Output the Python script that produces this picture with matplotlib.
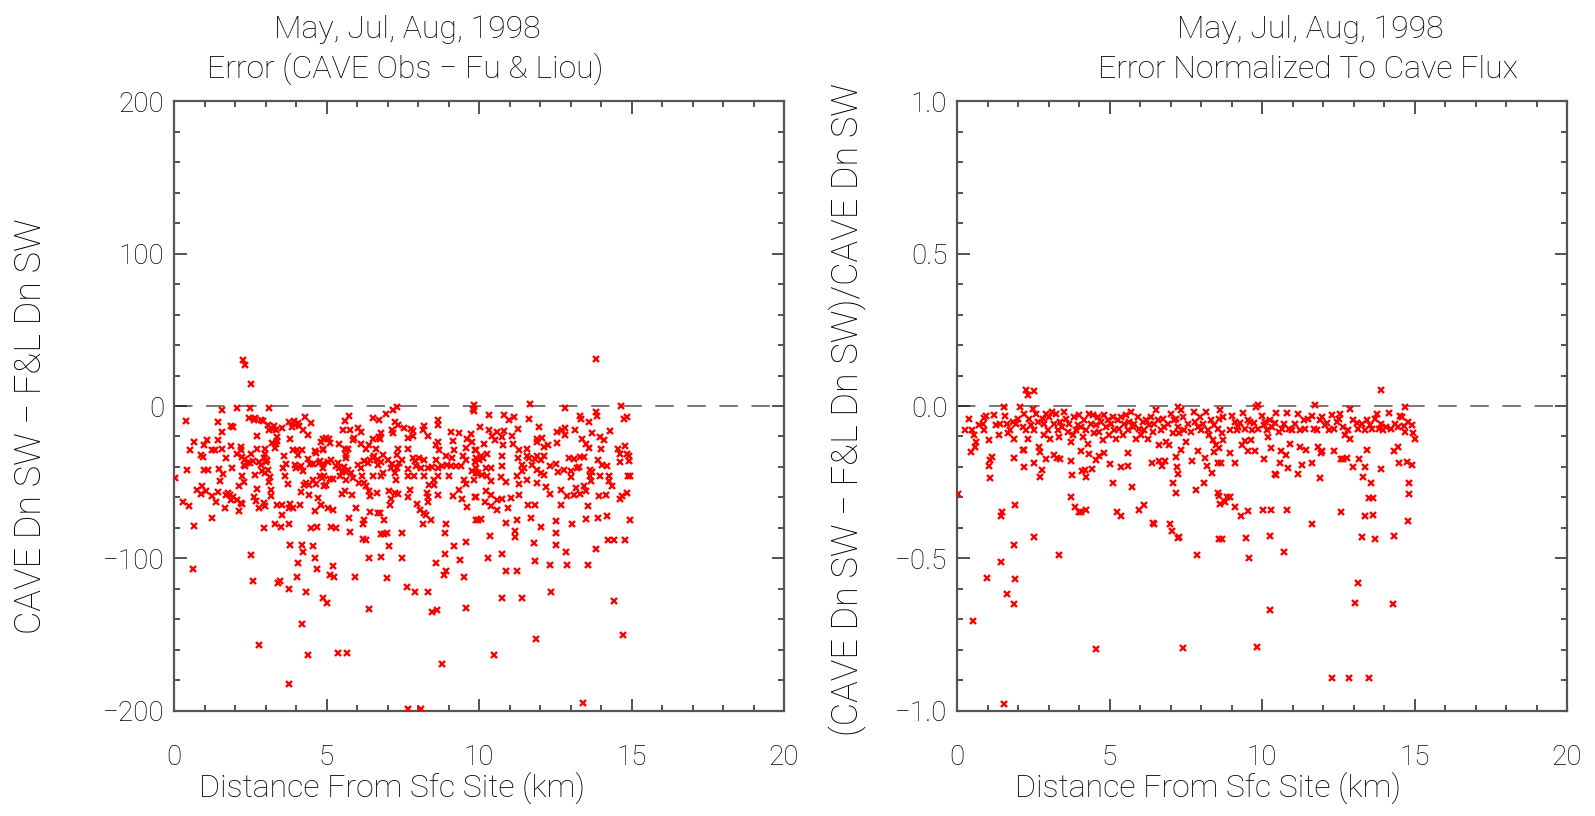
import numpy as np
import matplotlib
matplotlib.use("Agg")
import matplotlib.pyplot as plt
from matplotlib.ticker import MultipleLocator

plt.rcParams['font.family'] = ['Roboto', 'DejaVu Sans']
plt.rcParams['font.weight'] = 'light'

title_top = "May, Jul, Aug, 1998"
left_title = "Error (CAVE Obs \u2212 Fu & Liou)"
right_title = "Error Normalized To Cave Flux"
x_label = "Distance From Sfc Site (km)"
left_ylabel = "CAVE Dn SW \u2212 F&L Dn SW"
right_ylabel = "(CAVE Dn SW \u2212 F&L Dn SW)/CAVE Dn SW"

# (distance km, CAVE - F&L error W/m2)
left_pts = [
    (2.27, 30.3), (2.33, 27.0), (2.52, 14.6), (2.50, -1.0), (3.12, -1.3), (2.08, -1.3),
    (13.83, 31.0), (11.68, 1.3), (12.81, -1.3), (14.65, -0.2), (9.85, 0.7), (9.80, -2.0),
    (1.58, -2.8), (0.40, -9.6), (1.45, -10.7), (1.88, -12.9), (1.94, -13.8), (1.56, -16.8),
    (0.65, -23.8), (0.54, -28.6), (1.07, -22.1), (1.45, -22.5), (0.98, -25.8), (0.87, -31.9),
    (0.94, -33.4), (1.23, -29.0), (1.35, -28.6), (1.57, -27.9), (1.86, -26.0), (1.70, -34.1),
    (2.21, -26.9), (2.20, -28.8), (2.08, -31.2), (2.23, -33.4), (2.32, -34.5), (2.51, -31.2),
    (2.71, -28.2), (2.47, -7.6), (2.61, -9.0), (2.67, -8.1), (2.84, -9.0), (2.93, -9.6),
    (2.72, -19.9), (2.97, -27.9), (2.97, -31.2), (2.94, -34.1), (3.04, -35.2), (3.08, -12.2),
    (3.27, -12.9), (3.25, -15.1), (3.33, -15.5), (3.55, -14.4), (3.10, -15.9), (3.36, -20.3),
    (3.36, -23.1), (3.21, -24.2), (3.33, -24.9), (3.30, -27.5), (3.76, -10.5), (3.92, -9.8),
    (3.98, -12.2), (4.06, -11.1), (3.88, -13.8), (4.10, -12.9), (4.28, -7.2), (4.50, -11.1),
    (4.23, -15.5), (4.39, -18.8), (3.79, -21.4), (3.89, -28.6), (4.04, -28.6), (4.06, -31.9),
    (4.21, -28.6), (4.39, -34.5), (4.61, -29.7), (4.66, -30.8), (4.83, -23.8), (4.89, -21.4),
    (4.88, -28.6), (0.03, -47.2), (0.44, -41.7), (0.28, -62.9), (0.50, -65.7), (0.64, -78.4),
    (1.23, -73.4), (0.74, -55.2), (0.90, -57.4), (0.93, -52.6), (1.06, -55.9), (0.98, -42.1),
    (1.10, -41.7), (1.23, -58.7), (1.36, -63.1), (1.45, -56.3), (1.48, -41.3), (1.51, -49.3),
    (1.62, -44.5), (1.69, -58.1), (1.78, -57.0), (1.84, -58.3), (1.88, -61.4), (1.92, -59.6),
    (1.68, -66.8), (2.05, -61.8), (1.91, -40.6), (2.12, -52.2), (2.12, -69.0), (2.20, -63.3),
    (2.23, -64.4), (2.30, -49.6), (2.28, -38.9), (2.23, -46.1), (2.39, -37.3), (2.32, -39.1),
    (2.48, -37.3), (2.59, -36.2), (2.67, -45.0), (2.73, -54.4), (2.63, -59.8), (2.68, -62.4),
    (2.80, -66.8), (2.94, -63.5), (2.97, -65.3), (2.94, -79.9), (2.79, -36.9), (2.85, -38.4),
    (2.90, -42.8), (2.97, -43.9), (3.03, -36.9), (3.08, -41.7), (3.15, -46.5), (3.10, -49.8),
    (3.17, -55.2), (3.19, -59.2), (3.30, -77.1), (3.38, -65.1), (3.54, -65.1), (3.54, -71.6),
    (3.52, -79.3), (3.57, -40.4), (3.63, -46.1), (3.60, -33.0), (3.68, -37.8), (3.74, -50.9),
    (3.79, -64.0), (3.78, -66.8), (3.77, -77.1), (3.91, -67.0), (3.95, -38.4), (4.01, -40.6),
    (4.17, -39.5), (4.23, -42.8), (4.12, -64.6), (4.17, -56.6), (4.26, -51.7), (4.34, -50.4),
    (4.44, -52.0), (4.42, -58.3), (4.55, -48.3), (4.66, -50.9), (4.63, -69.0), (4.72, -60.3),
    (4.83, -65.1), (4.85, -47.2), (4.88, -40.6), (4.50, -79.9), (4.69, -79.3), (4.46, -38.0),
    (4.55, -37.8), (4.75, -37.3), (4.91, -46.1), (4.93, -52.6),
    (5.73, -6.3), (6.51, -7.6), (6.71, -9.0), (6.95, -5.0), (7.19, -2.4), (7.30, -0.7),
    (5.61, -10.0), (5.53, -15.5), (5.77, -15.9), (6.02, -14.4), (6.12, -16.8), (5.86, -22.1),
    (5.91, -21.2), (4.97, -21.0), (5.08, -21.6), (4.88, -28.2), (5.10, -24.2), (5.40, -25.1),
    (5.59, -28.2), (5.70, -28.2), (5.64, -31.9), (5.64, -34.1), (6.13, -24.9), (6.38, -25.5),
    (6.30, -28.2), (6.51, -21.4), (6.73, -20.3), (6.78, -17.7), (6.76, -21.6), (6.62, -28.2),
    (7.15, -15.5), (7.19, -17.7), (7.25, -10.7), (7.33, -12.2), (7.55, -14.4), (7.77, -15.1),
    (7.82, -16.6), (7.85, -19.9), (7.66, -21.0), (7.66, -27.9), (7.33, -28.2), (7.30, -31.9),
    (8.20, -13.3), (8.15, -15.9), (8.34, -19.4), (8.64, -9.0), (8.64, -12.2), (8.64, -23.8),
    (8.58, -25.3), (8.69, -28.6), (9.07, -17.2), (9.35, -17.7), (9.73, -18.1), (9.16, -23.1),
    (9.18, -29.0), (9.56, -27.5), (9.62, -21.6), (9.76, -23.8), (9.89, -28.6),
    (4.77, -36.2), (4.88, -37.8), (5.04, -36.9), (5.15, -35.2), (5.32, -39.1), (5.37, -37.3),
    (5.40, -40.6), (5.51, -43.0), (5.56, -40.0), (5.64, -43.4), (5.70, -41.7), (5.81, -43.9),
    (6.02, -38.4), (6.13, -40.6), (6.24, -36.2), (6.35, -37.3), (6.41, -35.6), (6.51, -34.1),
    (6.57, -33.0), (6.64, -35.6), (6.68, -38.4), (6.79, -36.9), (6.86, -31.9), (7.00, -35.2),
    (7.11, -40.6), (7.15, -37.8), (7.30, -40.6), (7.39, -37.3), (7.49, -35.2), (7.66, -41.3),
    (7.84, -34.1), (7.91, -36.2), (7.93, -39.5), (8.04, -34.1), (8.09, -40.6), (8.20, -35.6),
    (8.34, -40.6), (8.47, -40.0), (8.58, -35.2), (8.64, -40.6), (8.67, -45.6), (8.80, -39.5),
    (8.91, -33.0), (8.96, -38.6), (9.07, -39.5), (9.11, -34.1), (9.24, -39.5), (9.40, -39.5),
    (9.46, -33.0), (9.56, -35.2), (9.78, -42.8), (9.89, -40.6), (9.87, -36.9), (10.0, -35.2),
    (4.79, -46.1), (4.97, -51.5), (5.10, -47.8), (5.21, -47.8), (5.45, -46.1), (5.64, -48.3),
    (5.86, -47.2), (6.17, -45.6), (6.51, -45.6), (6.79, -46.1), (6.84, -43.9), (7.25, -43.9),
    (7.28, -48.3), (7.66, -46.1), (7.88, -45.6), (8.20, -46.1), (8.37, -51.5), (8.53, -51.5),
    (8.53, -48.3), (9.02, -45.6), (9.35, -54.8), (9.51, -48.3), (9.56, -51.1), (9.84, -48.3),
    (9.89, -43.9),
    (5.51, -57.4), (5.62, -55.9), (5.84, -58.1), (6.06, -50.4), (6.24, -50.4), (6.30, -52.2),
    (6.38, -55.9), (6.41, -58.7), (6.64, -57.0), (7.06, -55.9), (7.08, -65.1), (7.11, -60.7),
    (7.25, -57.0), (7.33, -57.4), (7.66, -59.6), (7.73, -55.2), (8.28, -57.0), (8.31, -59.6),
    (8.34, -63.1), (8.64, -58.1), (9.16, -59.2), (9.43, -60.9), (9.62, -66.2), (9.89, -59.6),
    (7.95, -64.0), (8.07, -67.9), (8.20, -70.1), (8.26, -71.8), (8.42, -74.9), (8.15, -77.7),
    (4.83, -65.1), (5.04, -66.8), (5.21, -68.3), (5.95, -66.8), (6.41, -69.2), (6.68, -70.1),
    (6.75, -70.1), (6.90, -74.7), (5.75, -73.6), (6.24, -74.5), (6.19, -77.1), (5.15, -79.3),
    (5.32, -80.1), (8.91, -77.7), (9.89, -74.7),
    (9.84, -3.1), (10.31, -5.7), (10.82, -5.9), (10.98, -9.0), (11.14, -7.2), (11.63, -8.5),
    (13.32, -6.3), (13.34, -8.5), (13.60, -10.3), (13.83, -3.7), (13.87, -6.8), (14.76, -8.5),
    (14.85, -7.2), (10.03, -13.8), (10.33, -15.5), (10.58, -16.8), (10.82, -16.4), (11.27, -15.1),
    (11.96, -14.0), (12.56, -16.8), (12.72, -15.9), (12.83, -14.6), (12.83, -19.2), (13.13, -15.9),
    (13.70, -17.7), (14.30, -16.2), (10.44, -19.4), (10.51, -22.5), (10.74, -20.5), (11.09, -19.9),
    (11.12, -25.1), (10.16, -24.9), (10.80, -25.5), (11.31, -28.6), (11.58, -28.2), (11.89, -21.6),
    (12.07, -21.2), (11.91, -23.4), (12.13, -26.9), (12.26, -25.3), (12.54, -24.2), (13.38, -21.4),
    (13.52, -24.9), (13.60, -27.5), (13.98, -20.3), (14.09, -22.1), (14.00, -28.2), (14.54, -28.2),
    (14.79, -26.4), (14.63, -31.2), (14.85, -31.2), (14.90, -33.0), (9.86, -28.6), (9.89, -34.1),
    (10.05, -33.0), (10.27, -31.4), (10.14, -33.8), (10.76, -32.5), (11.27, -34.1), (11.58, -33.0),
    (11.63, -34.1), (12.13, -32.5), (11.83, -34.7), (11.91, -33.0), (12.02, -35.6), (12.94, -34.1),
    (13.11, -34.7), (13.32, -33.4), (13.43, -33.4), (12.51, -38.0), (12.32, -39.1), (11.42, -38.4),
    (11.47, -40.6), (11.42, -42.8), (11.74, -38.9), (11.91, -41.7), (12.02, -43.9), (12.13, -45.0),
    (12.58, -43.4), (12.80, -41.7), (13.00, -42.8), (13.21, -40.6), (13.27, -39.7), (13.65, -41.7),
    (13.70, -43.4), (13.89, -35.6), (14.03, -38.4), (14.19, -39.5), (14.25, -46.1), (14.63, -36.9),
    (14.90, -36.2), (9.97, -43.9), (10.11, -45.0), (10.22, -40.6), (10.38, -40.6), (10.27, -45.6),
    (10.38, -49.3), (10.71, -46.5), (10.76, -39.5), (10.87, -50.0), (11.25, -46.1), (11.31, -50.9),
    (11.58, -48.3), (11.91, -50.4), (12.21, -53.3), (12.32, -57.4), (12.69, -54.8), (12.89, -59.2),
    (13.00, -46.5), (13.11, -58.5), (13.32, -57.6), (13.19, -54.1), (13.43, -52.6), (13.49, -55.9),
    (13.65, -46.1), (13.67, -49.3), (13.92, -58.7), (13.98, -46.1), (14.17, -58.3), (14.25, -49.3),
    (14.36, -52.6), (14.63, -60.9), (14.68, -59.2), (14.85, -57.0), (14.87, -45.6), (14.94, -45.6),
    (10.22, -55.9), (10.38, -58.1), (10.60, -61.4), (10.76, -60.7), (11.04, -60.3), (11.31, -58.1),
    (9.87, -59.6), (10.20, -62.9), (10.40, -65.7), (10.58, -68.3), (10.95, -67.2), (11.60, -64.8),
    (11.85, -64.6), (12.69, -65.1), (13.56, -65.3), (9.95, -74.5), (10.05, -74.0), (10.87, -76.6),
    (11.25, -74.5), (11.71, -73.4), (12.02, -79.3), (12.53, -75.5), (13.05, -77.1), (13.49, -74.2),
    (13.89, -73.4), (14.19, -72.3), (14.96, -74.5),
    (0.63, -107), (2.53, -98), (2.58, -115), (2.79, -156.5), (3.42, -116), (3.46, -115),
    (3.76, -120), (3.76, -182), (3.80, -91), (4.02, -112), (4.07, -103), (4.18, -143),
    (4.20, -91), (4.24, -96), (4.34, -122), (4.38, -163), (4.56, -92), (4.61, -99.5),
    (4.70, -107), (4.89, -126), (5.03, -129), (5.10, -111), (5.25, -112), (5.22, -105),
    (5.37, -162), (5.67, -162), (5.93, -112), (6.38, -133), (6.39, -100), (6.77, -99),
    (6.98, -113), (6.97, -83), (7.06, -92), (6.20, -87.5), (6.30, -88), (6.80, -84),
    (6.87, -84), (5.78, -82.5),
    (7.46, -83.6), (7.46, -99.5), (7.64, -118.5), (7.89, -122), (8.34, -122), (8.47, -135),
    (8.63, -134), (8.77, -169), (8.58, -103), (8.88, -97), (8.90, -108), (8.85, -110.5),
    (8.88, -83.6), (9.18, -91.5), (9.39, -101), (9.52, -112), (9.56, -89), (9.58, -132.5),
    (10.30, -100), (10.37, -85), (10.48, -163), (10.75, -97), (10.76, -126), (10.88, -108),
    (11.25, -108), (11.19, -82), (11.19, -86), (11.42, -126), (11.80, -90), (11.85, -101.5),
    (11.87, -153), (12.33, -104), (12.35, -122), (12.52, -91), (12.52, -83), (12.85, -96),
    (12.89, -104), (13.42, -195), (13.56, -104), (13.82, -94), (14.23, -88), (14.43, -88),
    (14.44, -128), (14.72, -150), (14.79, -88), (7.67, -199), (8.10, -199),
]

# (distance km, normalized error)
right_pts = [
    (2.26, 0.053), (2.32, 0.035), (2.51, 0.048), (0.04, -0.288), (13.89, 0.053), (11.72, 0.002),
    (9.79, -0.003), (9.88, 0.002), (14.69, -0.003), (12.87, -0.009),
    (0.26, -0.079), (0.40, -0.041), (0.48, -0.079), (0.46, -0.150), (0.55, -0.096), (0.62, -0.117),
    (0.60, -0.134), (0.73, -0.063), (0.84, -0.058), (0.90, -0.038), (0.95, -0.034), (0.87, -0.079),
    (1.06, -0.110), (1.22, -0.030), (1.28, -0.063), (1.37, -0.096), (1.42, -0.060), (1.55, -0.003),
    (1.57, -0.034), (1.64, -0.058), (1.66, -0.090), (1.75, -0.079), (1.83, -0.052), (1.88, -0.107),
    (1.93, -0.058), (1.99, -0.041), (2.08, -0.003), (2.15, -0.068), (2.21, -0.025), (2.19, -0.145),
    (2.26, -0.079), (2.32, -0.107), (2.37, -0.041), (2.43, -0.063), (2.48, -0.009), (2.54, -0.079),
    (2.59, -0.025), (2.64, -0.052), (2.68, -0.134), (2.73, -0.150), (2.81, -0.041), (2.84, -0.096),
    (2.86, -0.058), (2.92, -0.025), (2.97, -0.079), (3.03, -0.036), (3.06, -0.107), (3.10, -0.020),
    (3.17, -0.058), (3.25, -0.025), (3.30, -0.079), (3.36, -0.101), (3.39, -0.052), (3.43, -0.068),
    (3.52, -0.020), (3.57, -0.041), (3.63, -0.085), (3.68, -0.058), (3.74, -0.117), (3.79, -0.096),
    (3.85, -0.036), (3.90, -0.079), (3.96, -0.063), (4.01, -0.030), (4.07, -0.068), (4.12, -0.101),
    (4.17, -0.047), (4.23, -0.079), (4.28, -0.123), (4.34, -0.025), (4.39, -0.058), (4.45, -0.030),
    (4.50, -0.090), (4.56, -0.063), (4.61, -0.036), (4.67, -0.085), (4.72, -0.052), (4.78, -0.112),
    (4.83, -0.030), (4.89, -0.068), (4.94, -0.047), (4.99, -0.096), (5.05, -0.058), (5.10, -0.036),
    (5.16, -0.079), (5.21, -0.107), (5.27, -0.047), (5.32, -0.074), (5.38, -0.036), (5.43, -0.096),
    (5.49, -0.058), (5.54, -0.030), (5.60, -0.079), (5.65, -0.052), (5.70, -0.020), (5.76, -0.068),
    (5.81, -0.058), (5.87, -0.107), (5.92, -0.036), (5.98, -0.074), (6.03, -0.096), (6.09, -0.052),
    (6.14, -0.079), (6.20, -0.047), (6.25, -0.107), (6.31, -0.063), (6.36, -0.036), (6.42, -0.085),
    (6.47, -0.058), (6.52, -0.014), (6.58, -0.047), (6.63, -0.128), (6.69, -0.079), (6.74, -0.041),
    (6.80, -0.068), (6.85, -0.117), (6.91, -0.058), (6.96, -0.128), (7.02, -0.025), (7.07, -0.090),
    (7.13, -0.047), (7.18, -0.041), (7.23, -0.003), (7.26, -0.068), (7.29, -0.090), (7.34, -0.014),
    (7.40, -0.036), (7.45, -0.079), (7.51, -0.117), (7.56, -0.058), (7.67, -0.085), (7.76, -0.020),
    (7.80, -0.052), (7.89, -0.068), (7.95, -0.036), (8.00, -0.079), (8.05, -0.058), (8.16, -0.020),
    (8.22, -0.079), (8.27, -0.096), (8.33, -0.047), (8.38, -0.112), (8.44, -0.063), (8.49, -0.128),
    (8.55, -0.074), (8.60, -0.041), (8.63, -0.012), (8.68, -0.090), (8.71, -0.036),
    (1.09, -0.177), (1.14, -0.168), (1.04, -0.197), (1.08, -0.236), (1.88, -0.172), (2.21, -0.201),
    (2.15, -0.145), (2.51, -0.188), (2.73, -0.234), (2.78, -0.210), (2.93, -0.175), (3.19, -0.161),
    (3.28, -0.172), (3.39, -0.175), (3.74, -0.179), (3.76, -0.227), (4.07, -0.147), (4.09, -0.214),
    (4.20, -0.210), (4.23, -0.232), (4.34, -0.158), (4.42, -0.208), (4.56, -0.177), (4.67, -0.164),
    (4.83, -0.153), (5.03, -0.191), (5.10, -0.251), (5.38, -0.201), (5.60, -0.155), (5.62, -0.197),
    (5.73, -0.264), (6.38, -0.188), (6.61, -0.179), (6.72, -0.197), (6.82, -0.179), (7.07, -0.251),
    (7.18, -0.166), (7.21, -0.201), (7.26, -0.223), (7.18, -0.284), (7.34, -0.145), (7.69, -0.179),
    (7.84, -0.275), (7.89, -0.147), (8.09, -0.253), (8.13, -0.172), (8.20, -0.197), (8.35, -0.221),
    (8.42, -0.150), (8.55, -0.186), (8.66, -0.186), (8.60, -0.139), (8.71, -0.112),
    (1.44, -0.362), (1.46, -0.346), (1.90, -0.324), (1.86, -0.457), (2.51, -0.429), (3.74, -0.297),
    (3.87, -0.332), (4.01, -0.346), (4.07, -0.346), (4.23, -0.340), (5.25, -0.346), (5.38, -0.360),
    (5.95, -0.342), (6.14, -0.324), (6.43, -0.382), (6.45, -0.387), (6.99, -0.388), (7.05, -0.411),
    (7.23, -0.432), (7.29, -0.429), (8.57, -0.286), (8.60, -0.295), (8.63, -0.321), (8.77, -0.316),
    (8.84, -0.299), (8.60, -0.436), (8.69, -0.436),
    (8.95, -0.079), (9.01, -0.034), (9.10, -0.052), (9.17, -0.079), (9.20, -0.068), (9.28, -0.055),
    (9.39, -0.022), (9.45, -0.074), (9.53, -0.047), (9.61, -0.052), (9.66, -0.079), (9.75, -0.055),
    (9.88, -0.074), (9.99, -0.034), (10.05, -0.063), (10.10, -0.052), (10.16, -0.079), (10.27, -0.047),
    (10.32, -0.068), (10.43, -0.055), (10.45, -0.022), (10.54, -0.085), (10.65, -0.074), (10.73, -0.060),
    (10.81, -0.023), (10.87, -0.074), (10.98, -0.079), (11.08, -0.058), (11.17, -0.025), (11.25, -0.079),
    (11.36, -0.047), (11.41, -0.077), (11.52, -0.041), (11.63, -0.034), (11.69, -0.074), (11.79, -0.079),
    (11.90, -0.047), (11.98, -0.036), (12.05, -0.063), (12.12, -0.055), (12.18, -0.079), (12.29, -0.030),
    (12.37, -0.074), (12.45, -0.052), (12.51, -0.041), (12.56, -0.025), (12.67, -0.068), (12.72, -0.096),
    (12.81, -0.079), (12.89, -0.107), (12.99, -0.045), (13.11, -0.055), (13.16, -0.074), (13.27, -0.058),
    (13.36, -0.079), (13.43, -0.047), (13.54, -0.063), (13.60, -0.074), (13.69, -0.041), (13.76, -0.025),
    (13.82, -0.077), (13.90, -0.058), (13.98, -0.079), (14.06, -0.068), (14.17, -0.023), (14.23, -0.077),
    (14.36, -0.058), (14.45, -0.068), (14.53, -0.034), (14.60, -0.036), (14.64, -0.066), (14.69, -0.085),
    (14.80, -0.052), (14.91, -0.063), (14.96, -0.088), (15.02, -0.107),
    (8.95, -0.153), (9.12, -0.186), (9.34, -0.128), (9.45, -0.114), (9.53, -0.147), (9.64, -0.110),
    (9.77, -0.147), (10.08, -0.173), (10.21, -0.103), (10.30, -0.139), (10.41, -0.223), (10.45, -0.226),
    (10.59, -0.186), (10.63, -0.147), (10.78, -0.161), (10.84, -0.204), (10.92, -0.123), (11.19, -0.223),
    (11.30, -0.193), (11.25, -0.134), (11.43, -0.145), (11.63, -0.186), (11.85, -0.134), (11.94, -0.155),
    (11.98, -0.147), (12.37, -0.147), (12.59, -0.175), (12.67, -0.175), (12.78, -0.172), (12.99, -0.201),
    (13.18, -0.175), (13.38, -0.201), (13.43, -0.143), (13.90, -0.208), (14.34, -0.147), (14.47, -0.134),
    (14.49, -0.186), (14.75, -0.183), (14.93, -0.193),
    (8.95, -0.299), (9.10, -0.332), (9.30, -0.360), (9.55, -0.343), (10.02, -0.342), (10.30, -0.340),
    (10.81, -0.342), (11.65, -0.386), (11.90, -0.235), (12.59, -0.349), (13.30, -0.232), (13.49, -0.303),
    (13.65, -0.303), (13.58, -0.253), (13.38, -0.360), (13.65, -0.358), (14.78, -0.378), (14.82, -0.288),
    (14.83, -0.253), (9.47, -0.432), (10.27, -0.427), (13.29, -0.428), (13.71, -0.436), (14.32, -0.427),
    (0.54, -0.705), (0.99, -0.563), (1.43, -0.510), (1.55, -0.977), (1.65, -0.617), (1.89, -0.567),
    (1.88, -0.648), (3.34, -0.488), (4.57, -0.796), (7.41, -0.795), (7.87, -0.488), (9.56, -0.498),
    (9.85, -0.791), (10.27, -0.670), (10.71, -0.480), (12.29, -0.893), (12.85, -0.893), (13.05, -0.646),
    (13.14, -0.581), (13.52, -0.893), (14.28, -0.648),
]

x_ticks = [0, 5, 10, 15, 20]

fig = plt.figure(figsize=(15.95, 8.16), dpi=100)
ax1 = fig.add_axes([0.1091, 0.1287, 0.3825, 0.7475])
ax2 = fig.add_axes([0.600, 0.1287, 0.3825, 0.7475])

axis_col = '#555555'
fs = 20
fs_text = 23


def style(ax, ymin, ymax, ymaj, ymin_step, fmt):
    ax.set_xlim(0, 20)
    ax.set_ylim(ymin, ymax)
    ax.set_xticks(x_ticks)
    ax.xaxis.set_minor_locator(MultipleLocator(1))
    ax.yaxis.set_major_locator(MultipleLocator(ymaj))
    ax.yaxis.set_minor_locator(MultipleLocator(ymin_step))
    ax.yaxis.set_major_formatter(fmt)
    ax.tick_params(which='both', direction='in', top=True, right=True,
                   color='#222222', width=1.1)
    ax.tick_params(which='major', length=9)
    ax.tick_params(which='minor', length=4.5)
    ax.tick_params(axis='x', which='major', pad=24, labelsize=fs)
    ax.tick_params(axis='y', which='major', pad=7, labelsize=fs)
    for s in ax.spines.values():
        s.set_color(axis_col)
        s.set_linewidth(1.6)
    ax.axhline(0, color='#777777', lw=1.4, dashes=(9.5, 7), zorder=1)


style(ax1, -200, 200, 100, 20,
      plt.FuncFormatter(lambda v, p: f"{v:.0f}".replace('-', '\u2212')))
style(ax2, -1.0, 1.0, 0.5, 0.1,
      plt.FuncFormatter(lambda v, p: f"{v:.1f}".replace('-', '\u2212')))

lp = np.array(left_pts)
rp = np.array(right_pts)
ax1.plot(lp[:, 0], lp[:, 1], 'x', color='red', ms=4.2, mew=1.7, zorder=3)
ax2.plot(rp[:, 0], rp[:, 1], 'x', color='red', ms=4.2, mew=1.7, zorder=3)

# titles and labels are placed where they sit on the original
fig.text(407 / 1595, 1 - 29 / 816, title_top, ha='center', va='center', fontsize=fs_text)
fig.text(405 / 1595, 1 - 69 / 816, left_title, ha='center', va='center', fontsize=fs_text)
fig.text(1310 / 1595, 1 - 29 / 816, title_top, ha='center', va='center', fontsize=fs_text)
fig.text(1308 / 1595, 1 - 69 / 816, right_title, ha='center', va='center', fontsize=fs_text)
fig.text(392 / 1595, 1 - 788 / 816, x_label, ha='center', va='center', fontsize=fs_text)
fig.text(1208 / 1595, 1 - 788 / 816, x_label, ha='center', va='center', fontsize=fs_text)
fig.text(31 / 1595, 1 - 426 / 816, left_ylabel, ha='center', va='center',
         rotation=90, fontsize=26)
fig.text(847 / 1595, 1 - 410 / 816, right_ylabel, ha='center', va='center',
         rotation=90, fontsize=26)

fig.savefig('out.png', dpi=100)
